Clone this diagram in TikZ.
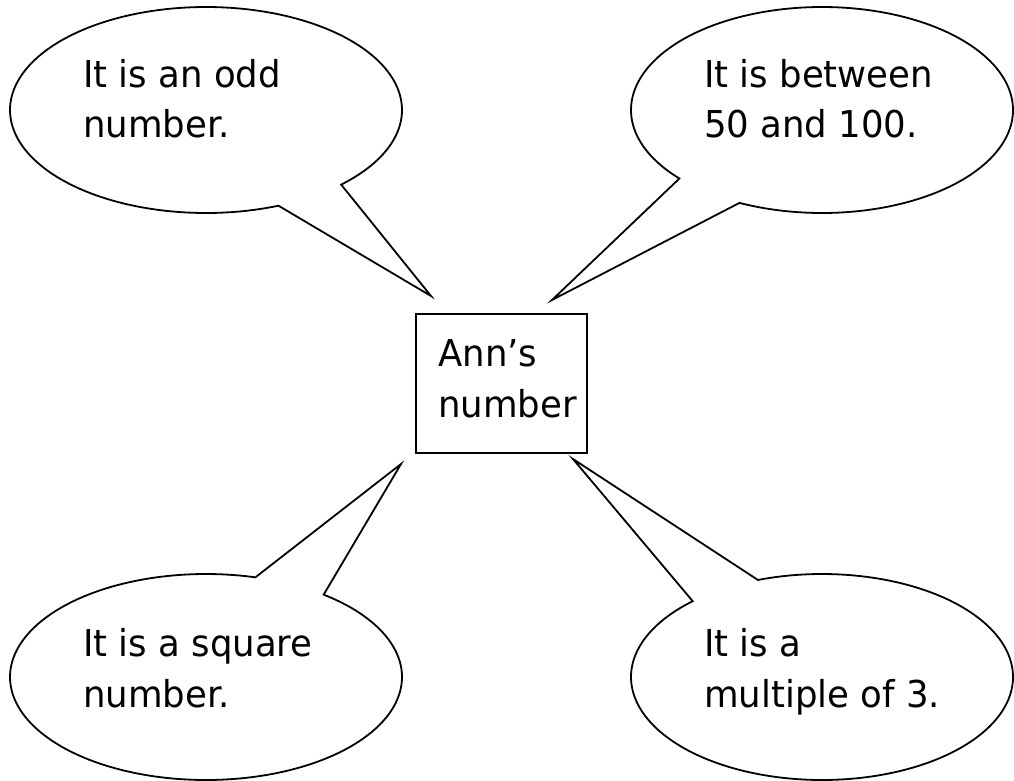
\documentclass[tikz,border=0pt]{standalone}
\usepackage{fontspec}
\setmainfont{DejaVu Sans}[FakeStretch=0.96]
\begin{document}
\begin{tikzpicture}[x=1pt,y=-1pt,
  bubble/.style={draw=black,line width=1.8pt,line join=miter,fill=white},
  boxstyle/.style={draw=black,line width=1.8pt},
  saying/.style={anchor=base west,align=left,inner sep=0pt,font=\fontsize{37}{51}\selectfont}]
\useasboundingbox (0,0) rectangle (1014,781);
% tip coordinates
\coordinate (tipTL) at (431,296);
\coordinate (tipTR) at (552,300);
\coordinate (tipBL) at (401,464);
\coordinate (tipBR) at (573,459);
% bubbles
\draw[bubble] (tipTL) -- plot[domain=68.3:406.4,samples=200,smooth] ({206+196*cos(\x)},{110+103*sin(\x)}) -- cycle;
\draw[bubble] (tipTR) -- plot[domain=138.3:475.6,samples=200,smooth] ({822+191*cos(\x)},{110+103*sin(\x)}) -- cycle;
\draw[bubble] (tipBL) -- plot[domain=306.9:644.6,samples=200,smooth] ({206+196*cos(\x)},{677+103*sin(\x)}) -- cycle;
\draw[bubble] (tipBR) -- plot[domain=250.4:587.4,samples=200,smooth] ({822+191*cos(\x)},{677+103*sin(\x)}) -- cycle;
% central box
\draw[boxstyle] (416,314) rectangle (587,453);
\node[saying] (ann) at (438,417) {Ann’s\\number};
% texts
\node[saying] (odd) at (83,138) {It is an odd\\number.};
\node[saying] (between) at (704,138) {It is between\\50 and 100.};
\node[saying] (square) at (83,707) {It is a square\\number.};
\node[saying] (multiple) at (704,707) {It is a\\multiple of 3.};
\end{tikzpicture}
\end{document}
